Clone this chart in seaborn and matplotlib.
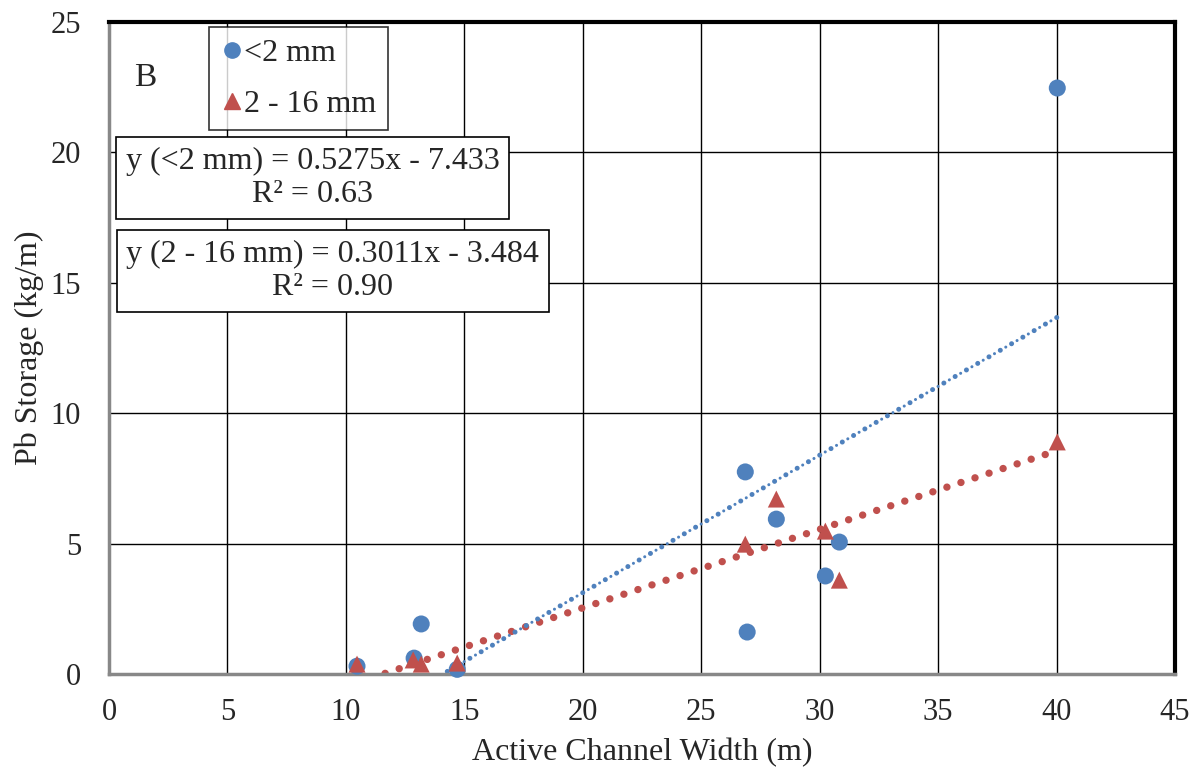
import numpy as np
import pandas as pd
import matplotlib
matplotlib.use("Agg")
import matplotlib.pyplot as plt
from matplotlib.lines import Line2D
import seaborn as sns

# Pb storage per unit channel length versus active channel width
width_fine = [10.47, 12.88, 13.18, 14.70, 26.86, 26.94, 28.17, 30.24, 30.83, 40.03]
pb_fine = [0.30, 0.61, 1.92, 0.18, 7.75, 1.61, 5.94, 3.76, 5.06, 22.47]

width_coarse = [10.47, 12.84, 13.18, 14.70, 26.86, 28.17, 30.24, 30.83, 40.03]
pb_coarse = [0.38, 0.54, 0.38, 0.42, 4.98, 6.71, 5.48, 3.60, 8.90]

series_names = ["<2 mm", "2 - 16 mm"]

# Linear trendline parameters (slope, intercept, R²)
slope_fine, intercept_fine, r2_fine = 0.5275, -7.433, 0.63
slope_coarse, intercept_coarse, r2_coarse = 0.3011, -3.484, 0.90

x_ticks = [0, 5, 10, 15, 20, 25, 30, 35, 40, 45]
y_ticks = [0, 5, 10, 15, 20, 25]

blue = "#4F81BD"
red = "#C0504D"

df = pd.DataFrame({
    "width": width_fine + width_coarse,
    "pb": pb_fine + pb_coarse,
    "size": [series_names[0]] * len(width_fine) + [series_names[1]] * len(width_coarse),
})

sns.set_theme(style="white")
plt.rcParams["font.family"] = ["Liberation Serif", "DejaVu Serif"]

fig = plt.figure(figsize=(11.99, 7.76), dpi=100)
ax = fig.add_axes([0.0909, 0.1314, 0.8891, 0.8402])

ax.set_xlim(0, 45)
ax.set_ylim(0, 25)
ax.set_xticks(x_ticks)
ax.set_yticks(y_ticks)
ax.grid(True, color="black", linewidth=1.0)
ax.set_axisbelow(True)

# Trendlines drawn from the fitted equations over the sampled width range
def trend(xs, m, b):
    xx = np.linspace(min(xs), max(xs), 400)
    return xx, m * xx + b

xf, yf = trend(width_fine, slope_fine, intercept_fine)
xc, yc = trend(width_coarse, slope_coarse, intercept_coarse)

ax.plot(xc, yc, color=red, linewidth=5.3, linestyle=(0, (0.01, 2.0)),
        dash_capstyle="round", zorder=2)
# blue trendline: larger dots with small dots in between
ax.plot(xf, yf, color=blue, linewidth=3.6, linestyle=(0, (0.01, 2.6)),
        dash_capstyle="round", zorder=2)
ax.plot(xf, yf, color=blue, linewidth=2.2, linestyle=(2.14, (0.01, 4.26)),
        dash_capstyle="round", zorder=2)

sns.scatterplot(data=df, x="width", y="pb", hue="size", style="size",
                hue_order=series_names, style_order=series_names,
                palette={series_names[0]: blue, series_names[1]: red},
                markers={series_names[0]: "o", series_names[1]: "^"},
                s=150, linewidth=0, ax=ax, zorder=3, clip_on=False, legend=False)

ax.set_xlabel("Active Channel Width (m)", fontsize=23, labelpad=8)
ax.set_ylabel("Pb Storage (kg/m)", fontsize=23, labelpad=5)
ax.tick_params(axis="x", labelsize=22, length=0, pad=17)
ax.tick_params(axis="y", labelsize=22, length=0, pad=20)

for side in ["left", "bottom"]:
    ax.spines[side].set_color("#888888")
    ax.spines[side].set_linewidth(2.5)
for side in ["top", "right"]:
    ax.spines[side].set_color("black")
    ax.spines[side].set_linewidth(3)

# Legend
handles = [
    Line2D([], [], marker="o", linestyle="none", color=blue, markersize=11),
    Line2D([], [], marker="^", linestyle="none", color=red, markersize=11),
]
leg = ax.legend(handles, series_names, loc="upper left",
                bbox_to_anchor=(0.094, 0.992), fontsize=23, frameon=True,
                fancybox=False, edgecolor="black", handletextpad=0.0,
                handlelength=0.75, labelspacing=0.69, borderpad=0.35,
                borderaxespad=0)
leg.get_frame().set_linewidth(1.2)

ax.text(0.034, 0.914, "B", transform=ax.transAxes, fontsize=24,
        ha="center", va="center")

box = dict(boxstyle="square,pad=0.3", facecolor="white", edgecolor="black",
           linewidth=1.2)
ax.text(0.191, 0.761,
        f"y ({series_names[0]}) = {slope_fine}x - {abs(intercept_fine)}\nR² = {r2_fine:.2f}",
        transform=ax.transAxes, fontsize=23, ha="center", va="center",
        multialignment="center", linespacing=1.2, bbox=box, zorder=5)
ax.text(0.210, 0.618,
        f"y ({series_names[1]}) = {slope_coarse}x - {abs(intercept_coarse)}\nR² = {r2_coarse:.2f}",
        transform=ax.transAxes, fontsize=23, ha="center", va="center",
        multialignment="center", linespacing=1.2, bbox=box, zorder=5)

fig.savefig("out.png", dpi=100)
